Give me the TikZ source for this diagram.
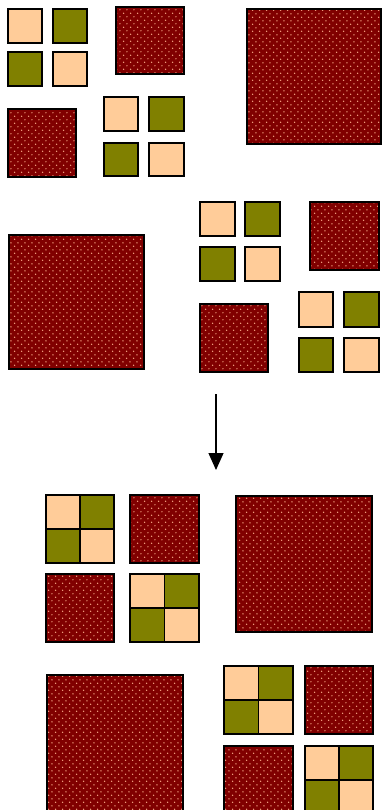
\documentclass[tikz,border=0pt]{standalone}
\usetikzlibrary{patterns,arrows.meta}
\definecolor{peach}{HTML}{FFCC99}
\definecolor{olivec}{HTML}{808000}
\definecolor{dred}{HTML}{800000}
\definecolor{dotc}{HTML}{F8AA88}
\pgfdeclarepatternformonly{reddots}{\pgfqpoint{0pt}{0pt}}{\pgfqpoint{6.8pt}{7.4pt}}{\pgfqpoint{6.8pt}{7.4pt}}{%
  \pgfpathcircle{\pgfqpoint{1.7pt}{1.85pt}}{0.75pt}%
  \pgfpathcircle{\pgfqpoint{5.1pt}{5.55pt}}{0.75pt}%
  \pgfusepath{fill}}
\tikzset{
  box/.style={rectangle, inner sep=0pt, outer sep=0pt, anchor=north west},
  sepsq/.style={box, draw=black, line width=1.7pt},
  pk/.style={fill=peach},
  ol/.style={fill=olivec},
  dotsq/.style={box, draw=black, line width=1.4pt, preaction={fill=dred}, pattern=reddots, pattern color=dotc},
  qsub/.style={box, draw=black, line width=1.3pt},
  qframe/.style={box, draw=black, line width=1.5pt},
  flow/.style={-{Triangle[length=17pt,width=15pt]}, line width=1.2pt},
}
% name, x1, y1, x2, y2, style
\newcommand\tile[6]{\node[#6, minimum width={#4pt-#2pt}, minimum height={#5pt-#3pt}] (#1) at (#2,#3) {};}
% four separate squares: name, x1,x2,x3,x4, y1,y2,y3,y4
\newcommand\sepgrid[9]{%
  \tile{#1a}{#2}{#6}{#3}{#7}{sepsq,pk}
  \tile{#1b}{#4}{#6}{#5}{#7}{sepsq,ol}
  \tile{#1c}{#2}{#8}{#3}{#9}{sepsq,ol}
  \tile{#1d}{#4}{#8}{#5}{#9}{sepsq,pk}}
% joined quad: name, x1, y1, x2, y2
\newcommand\quadtile[5]{%
  \pgfmathsetmacro\qmx{(#2+#4)/2}\pgfmathsetmacro\qmy{(#3+#5)/2}%
  \tile{#1a}{#2}{#3}{\qmx}{\qmy}{qsub,pk}
  \tile{#1b}{\qmx}{#3}{#4}{\qmy}{qsub,ol}
  \tile{#1c}{#2}{\qmy}{\qmx}{#5}{qsub,ol}
  \tile{#1d}{\qmx}{\qmy}{#4}{#5}{qsub,pk}
  \tile{#1}{#2}{#3}{#4}{#5}{qframe}}
\begin{document}
\begin{tikzpicture}[x=1pt,y=-1pt]
\useasboundingbox (0,0) rectangle (382,810);
% section 1
\sepgrid{ga}{8}{42}{53}{87}{9}{43}{52}{86}
\tile{d1}{116}{7}{184}{74}{dotsq}
\tile{d2}{8}{109}{76}{177}{dotsq}
\sepgrid{gb}{104}{138}{149}{184}{97}{131}{143}{176}
\tile{b1}{247}{9}{381}{144}{dotsq}
% section 2
\tile{b2}{9}{235}{144}{369}{dotsq}
\sepgrid{gc}{200}{235}{245}{280}{202}{236}{247}{281}
\tile{d3}{310}{202}{379}{270}{dotsq}
\tile{d4}{200}{304}{268}{372}{dotsq}
\sepgrid{gd}{299}{333}{344}{379}{292}{327}{338}{372}
% arrow
\coordinate (as) at (216,394);
\coordinate (ae) at (216,470);
\draw[flow] (as) -- (ae);
% section 3
\quadtile{q1}{46}{495}{114}{563}
\tile{d5}{130}{495}{199}{563}{dotsq}
\tile{d6}{46}{574}{114}{642}{dotsq}
\quadtile{q2}{130}{574}{199}{642}
\tile{b3}{236}{496}{372}{632}{dotsq}
% section 4
\quadtile{q3}{224}{666}{293}{734}
\tile{d7}{305}{666}{373}{734}{dotsq}
\tile{d8}{224}{746}{293}{814}{dotsq}
\quadtile{q4}{305}{746}{373}{814}
\tile{b4}{47}{675}{183}{811}{dotsq}
\end{tikzpicture}
\end{document}
